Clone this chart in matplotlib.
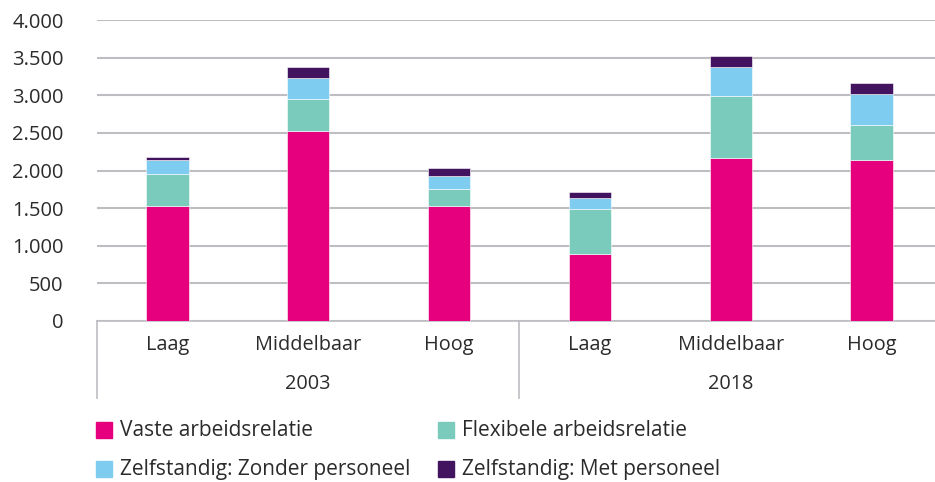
import numpy as np
import matplotlib.pyplot as plt
from matplotlib.patches import Rectangle
from matplotlib.lines import Line2D

plt.rcParams['font.family'] = ['Open Sans', 'DejaVu Sans']

years = ["2003", "2018"]
levels = ["Laag", "Middelbaar", "Hoog"]
series = ["Vaste arbeidsrelatie", "Flexibele arbeidsrelatie",
          "Zelfstandig: Zonder personeel", "Zelfstandig: Met personeel"]
vaste = [1530, 2525, 1530, 895, 2170, 2140]
flexibel = [430, 430, 220, 600, 820, 460]
zonder = [180, 280, 175, 145, 390, 420]
met = [35, 145, 105, 75, 140, 145]
yticks = [0, 500, 1000, 1500, 2000, 2500, 3000, 3500, 4000]
colors = ["#E6007E", "#7ACBBC", "#7FCCF1", "#42145F"]
text_color = "#2B2B2B"

W, H = 935, 482
fig = plt.figure(figsize=(W / 100, H / 100), dpi=100)
ax = fig.add_axes([97 / W, (H - 321) / H, 845 / W, 301 / H])

x = np.arange(len(vaste))
bottom = np.zeros(len(vaste))
for vals, col in zip([vaste, flexibel, zonder, met], colors):
    ax.bar(x, vals, 0.30, bottom=bottom, color=col, edgecolor="white",
           linewidth=0.4, zorder=3)
    bottom += np.array(vals)

ax.set_xlim(-0.5, 5.5)
ax.set_ylim(0, 4000)
ax.set_yticks(yticks)
ax.set_yticklabels([f"{v:,}".replace(",", ".") for v in yticks],
                   fontsize=14.5, color=text_color)
ax.tick_params(axis="y", length=0, pad=24)
ax.set_xticks([])
ax.grid(axis="y", color="#BDBDC2", linewidth=1.5, zorder=0)
for s in ["top", "right", "left"]:
    ax.spines[s].set_visible(False)
ax.spines["bottom"].set_color("#BDBDC2")
ax.spines["bottom"].set_linewidth(1.2)

# hierarchical category axis
trans = ax.get_xaxis_transform()
for i in range(len(vaste)):
    ax.text(i, -0.08, levels[i % 3], transform=trans, ha="center", va="center",
            fontsize=14.3, color=text_color)
for j, yr in enumerate(years):
    ax.text(j * 3 + 1, -0.21, yr, transform=trans, ha="center", va="center",
            fontsize=14.3, color=text_color)
for xs in [-0.5, 2.5]:
    ax.add_line(Line2D([xs, xs], [0, -0.256], transform=trans, color="#BDBDC2",
                       linewidth=1.2, clip_on=False))

# legend
leg_pos = [(96, 430), (438, 430), (96, 469), (438, 469)]
for (lx, ly), lab, col in zip(leg_pos, series, colors):
    fig.patches.append(Rectangle((lx / W, (H - ly - 8) / H), 16 / W, 16 / H,
                                 transform=fig.transFigure, color=col))
    fig.text((lx + 24) / W, (H - ly) / H, lab, ha="left", va="center",
             fontsize=15, color=text_color)

fig.savefig("out.png", dpi=100)
